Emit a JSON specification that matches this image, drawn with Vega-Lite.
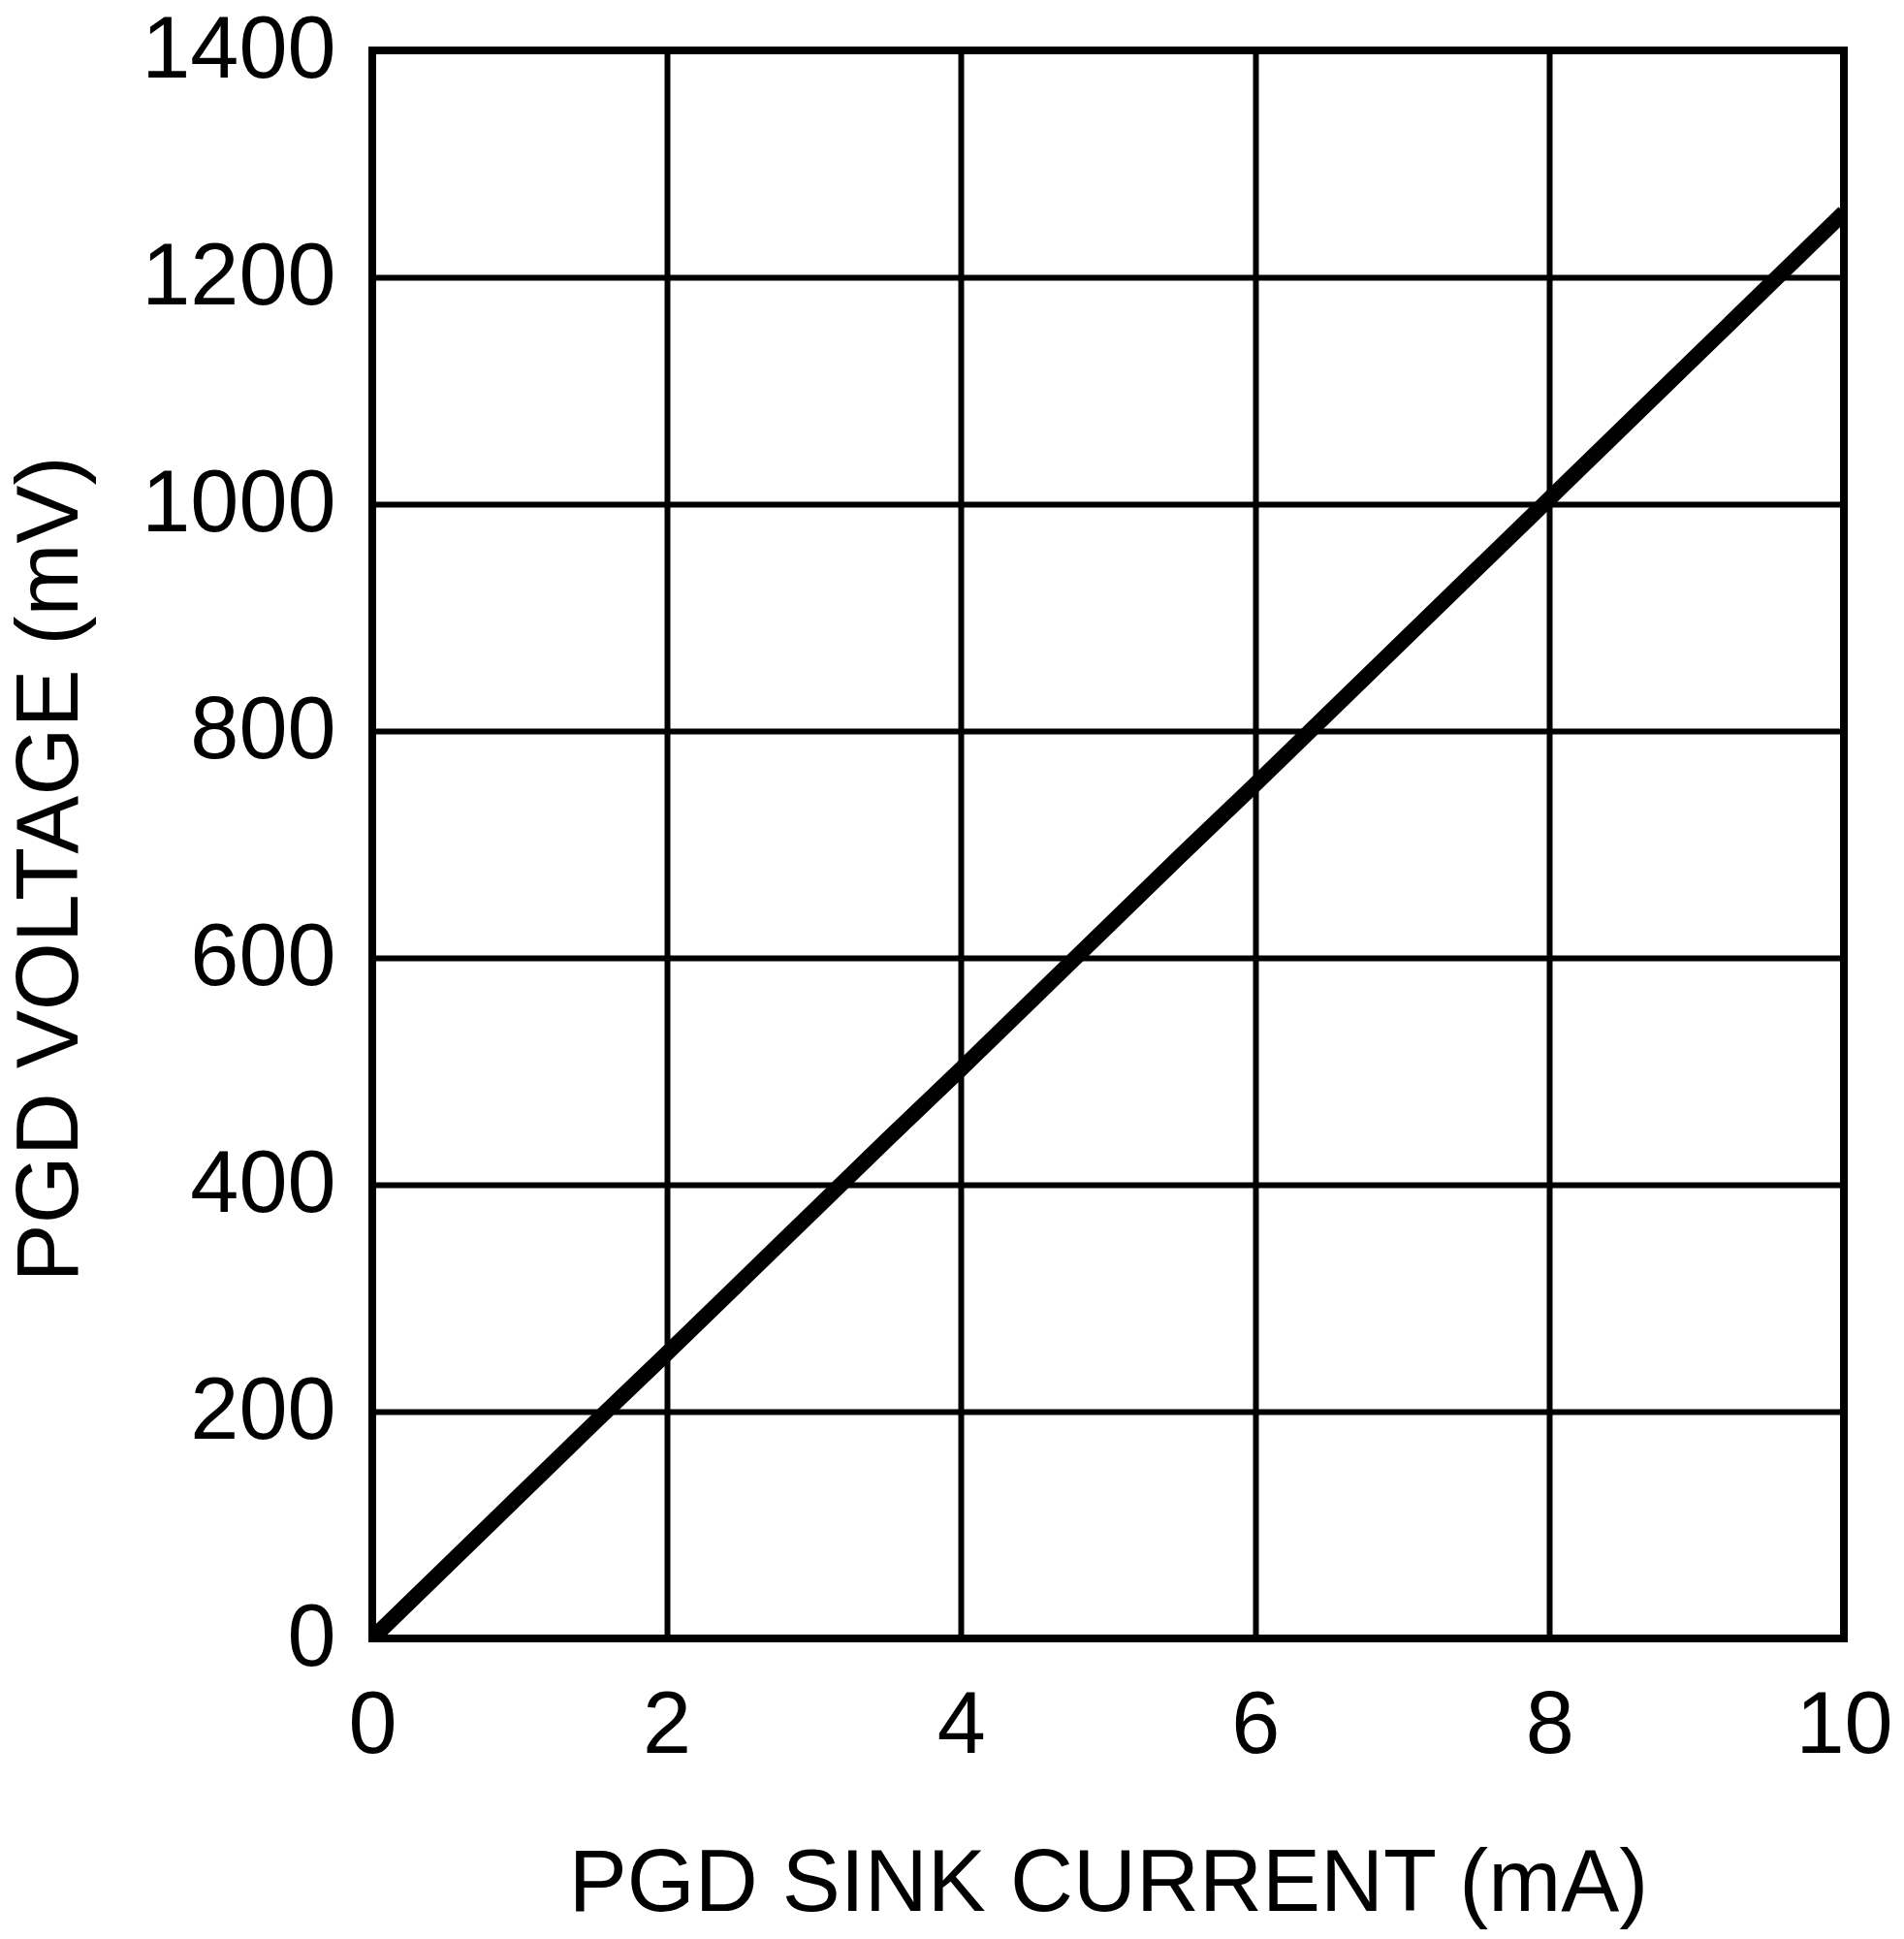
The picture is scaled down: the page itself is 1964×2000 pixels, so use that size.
{
  "$schema": "https://vega.github.io/schema/vega-lite/v6.json",
  "autosize": {"type": "none"},
  "padding": {"left": 384, "top": 52, "right": 62, "bottom": 310},
  "width": 1518,
  "height": 1638,
  "background": "white",
  "config": {
    "view": {"stroke": "black", "strokeWidth": 8},
    "font": "Liberation Sans"
  },
  "data": {
    "values": [
      {"i": 0, "v": 0},
      {"i": 0.5, "v": 63},
      {"i": 1, "v": 126},
      {"i": 1.5, "v": 189},
      {"i": 2, "v": 251},
      {"i": 2.5, "v": 314},
      {"i": 3, "v": 377},
      {"i": 3.5, "v": 440},
      {"i": 4, "v": 502},
      {"i": 4.5, "v": 565},
      {"i": 5, "v": 628},
      {"i": 5.5, "v": 691},
      {"i": 6, "v": 753},
      {"i": 6.5, "v": 816},
      {"i": 7, "v": 879},
      {"i": 7.5, "v": 942},
      {"i": 8, "v": 1005},
      {"i": 8.5, "v": 1068},
      {"i": 9, "v": 1131},
      {"i": 9.5, "v": 1194},
      {"i": 10, "v": 1257}
    ]
  },
  "mark": {"type": "line", "color": "black", "strokeWidth": 16, "strokeJoin": "round", "clip": true},
  "encoding": {
    "x": {
      "field": "i", "type": "quantitative",
      "scale": {"domain": [0, 10], "nice": false, "zero": false},
      "axis": {
        "title": "PGD SINK CURRENT (mA)",
        "values": [0, 2, 4, 6, 8, 10],
        "format": "d",
        "grid": true, "gridColor": "black", "gridWidth": 6, "gridOpacity": 1,
        "domain": false, "ticks": false,
        "labelFontSize": 90, "labelColor": "black", "labelPadding": 46, "labelLimit": 0,
        "labelFlush": false, "labelOverlap": false,
        "titleFontSize": 90, "titleFontWeight": "normal", "titleColor": "black",
        "titleBaseline": "alphabetic", "titleY": 280
      }
    },
    "y": {
      "field": "v", "type": "quantitative",
      "scale": {"domain": [0, 1400], "nice": false},
      "axis": {
        "title": "PGD VOLTAGE (mV)",
        "values": [0, 200, 400, 600, 800, 1000, 1200, 1400],
        "format": "d",
        "grid": true, "gridColor": "black", "gridWidth": 6, "gridOpacity": 1,
        "domain": false, "ticks": false,
        "labelFontSize": 90, "labelColor": "black", "labelPadding": 38, "labelLimit": 0,
        "labelFlush": false, "labelOverlap": false,
        "titleFontSize": 90, "titleFontWeight": "normal", "titleColor": "black",
        "titleBaseline": "alphabetic", "titleX": -305, "titleY": 844, "titleAngle": -90
      }
    }
  }
}
